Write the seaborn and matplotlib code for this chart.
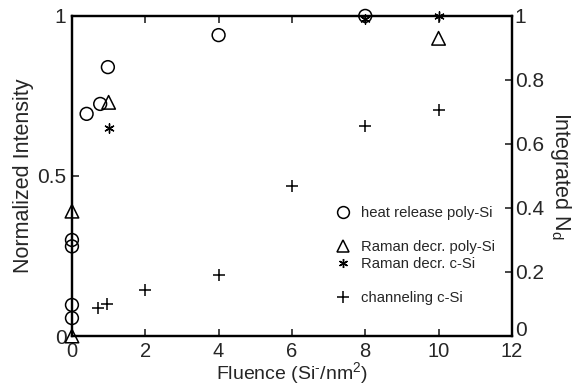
import matplotlib
matplotlib.use("Agg")
import matplotlib.pyplot as plt
from matplotlib.lines import Line2D
import seaborn as sns

# heat release poly-Si (normalized intensity)
heat_x = [0, 0, 0, 0, 0.4, 0.77, 0.98, 4, 8]
heat_y = [0.056, 0.097, 0.28, 0.30, 0.694, 0.725, 0.84, 0.94, 1.0]

# Raman decrease poly-Si
raman_poly_x = [0, 0, 1.0, 10]
raman_poly_y = [0.0, 0.39, 0.73, 0.93]

# Raman decrease c-Si
raman_c_x = [1.0, 8, 10]
raman_c_y = [0.65, 0.99, 1.0]

# channeling c-Si (integrated N_d, right axis)
chan_x = [0.7, 0.95, 2, 4, 6, 8, 10]
chan_y = [0.087, 0.10, 0.145, 0.19, 0.47, 0.655, 0.706]

x_ticks = [0, 2, 4, 6, 8, 10, 12]
left_ticks = [0, 0.5, 1]
left_labels = ['0', '0.5', '1']
right_ticks = [0, 0.2, 0.4, 0.6, 0.8, 1]
right_labels = ['0', '0.2', '0.4', '0.6', '0.8', '1']

sns.set_style("white")
plt.rcParams['font.family'] = ['Liberation Sans', 'DejaVu Sans']
plt.rcParams['mathtext.fontset'] = 'custom'
plt.rcParams['mathtext.rm'] = 'Liberation Sans'
plt.rcParams['mathtext.it'] = 'Liberation Sans'

fig = plt.figure(figsize=(5.85, 3.88), dpi=100)
ax = fig.add_axes([0.123, 0.134, 0.752, 0.825])
ax2 = ax.twinx()

asterisk = (6, 2, 0)
sns.scatterplot(x=heat_x, y=heat_y, ax=ax, marker='o', s=85, facecolor='none',
                edgecolor='black', linewidth=1.1, clip_on=False, legend=False, zorder=3)
sns.scatterplot(x=raman_poly_x, y=raman_poly_y, ax=ax, marker='^', s=95, facecolor='none',
                edgecolor='black', linewidth=1.1, clip_on=False, legend=False, zorder=3)
sns.scatterplot(x=raman_c_x, y=raman_c_y, ax=ax, marker=asterisk, s=45, color='black',
                linewidth=1.0, clip_on=False, legend=False, zorder=3)
sns.scatterplot(x=chan_x, y=chan_y, ax=ax2, marker='+', s=75, color='black',
                linewidth=1.1, clip_on=False, legend=False, zorder=3)

ax.set_xlim(0, 12)
ax.set_ylim(0, 1)
ax2.set_ylim(0, 1)
ax.set_xticks(x_ticks)
ax.set_yticks(left_ticks)
ax.set_yticklabels(left_labels)
ax2.set_yticks(right_ticks)
ax2.set_yticklabels(right_labels)

for a in (ax, ax2):
    for sp in a.spines.values():
        sp.set_visible(True)
        sp.set_color('black')
        sp.set_linewidth(1.6)
ax.tick_params(axis='x', direction='in', length=5, width=1.2, labelsize=14.5,
               top=True, bottom=True, pad=4)
ax.tick_params(axis='y', direction='in', length=5, width=1.2, labelsize=15,
               left=True, right=False, pad=4)
ax2.tick_params(axis='y', direction='in', length=5, width=1.2, labelsize=15, pad=2)
# lift the right-hand "0" so it sits above the "12" like in the original
ax2.get_yticklabels()[0].set_verticalalignment('baseline')

ax.set_xlabel('Fluence (Si$^{\\text{-}}$/nm$^{2}$)', fontsize=14, labelpad=0)
ax.set_ylabel('Normalized Intensity', fontsize=15.5, labelpad=2)
ax2.set_ylabel('Integrated N$_{d}$', fontsize=15.5, rotation=270, labelpad=21)

# legend with blank rows between groups, as in the original figure
blank = Line2D([], [], linestyle='none', marker=None)
handles = [
    Line2D([], [], linestyle='none', marker='o', markersize=8.5, markerfacecolor='none',
           markeredgecolor='black', markeredgewidth=1.1),
    blank,
    Line2D([], [], linestyle='none', marker='^', markersize=9, markerfacecolor='none',
           markeredgecolor='black', markeredgewidth=1.1),
    Line2D([], [], linestyle='none', marker=asterisk, markersize=6.5, color='black',
           markeredgewidth=1.0),
    blank,
    Line2D([], [], linestyle='none', marker='+', markersize=8, color='black',
           markeredgewidth=1.1),
]
labels = ['heat release poly-Si', ' ', 'Raman decr. poly-Si', 'Raman decr. c-Si', ' ',
          'channeling c-Si']
ax2.legend(handles, labels, loc='upper left', bbox_to_anchor=(0.599, 0.405),
           frameon=False, fontsize=10.7, handletextpad=0.75, labelspacing=0.2,
           handlelength=1.0, borderaxespad=0, borderpad=0)

fig.savefig('out.png', dpi=100)
